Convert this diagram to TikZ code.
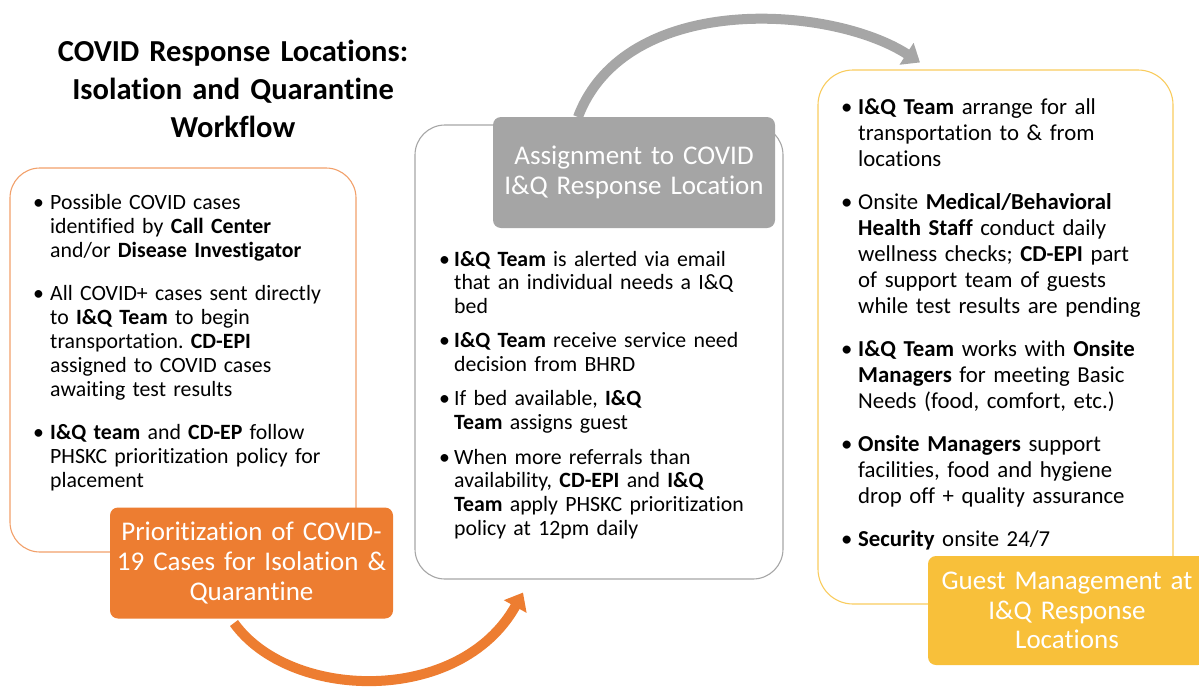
\documentclass[tikz,border=0pt]{standalone}
\usepackage{fontspec}
\setmainfont{Carlito}[Ligatures=NoCommon]
\usetikzlibrary{arrows.meta,calc}
\frenchspacing

\definecolor{qorange}{HTML}{ED7D31}
\definecolor{qorangeline}{HTML}{F2A06A}
\definecolor{qgray}{HTML}{A5A5A5}
\definecolor{qgrayline}{HTML}{A6A6A6}
\definecolor{qgold}{HTML}{F8C03A}
\definecolor{qgoldline}{HTML}{F9CC5E}

\newlength{\bulw}
\newcommand{\Bul}{\makebox[\bulw][l]{\textbullet}}
\newcommand{\Ind}{\hspace*{\bulw}}

\tikzset{
  panel/.style={draw, line width=1.1pt, fill=white, inner sep=0pt},
  stage/.style={text=white, inner sep=0pt, rounded corners=8pt,
    font=\fontsize{27}{29.7}\selectfont, align=center, text width=#1},
  bullets/.style={anchor=base west, inner sep=0pt, align=left, text width=340pt},
  flow/.style={line width=10pt, -{Triangle[length=16pt,width=25pt]}},
}

\begin{document}
\begin{tikzpicture}[x=1pt,y=-1pt]
\useasboundingbox (0,0) rectangle (1199,694);

% title
\node[anchor=base, inner sep=0pt, align=center, text width=440pt,
      font=\fontsize{30.5}{38}\selectfont\bfseries] (title) at (233,61)
  {COVID Response Locations:\\Isolation and Quarantine\\Workflow};

% outlined panels
\node[panel, draw=qorangeline, rounded corners=30pt,
      minimum width=346pt, minimum height=384pt] (lbox) at (183,360) {};
\node[panel, draw=qgrayline, rounded corners=30pt,
      minimum width=368pt, minimum height=454pt] (mbox) at (599,352) {};
\node[panel, draw=qgoldline, rounded corners=35pt,
      minimum width=355pt, minimum height=534pt] (rbox) at (995.5,337) {};

% connectors between the stages
\coordinate (gs) at ([xshift=-56pt]634,117);
\coordinate (ge) at ([xshift=-75.5pt,yshift=7pt]rbox.north);
\draw[flow, qgrayline] (gs) .. controls ($(gs)+(47,-125)$) and ($(ge)+(-90,-58)$) .. (ge);

\coordinate (os) at ([xshift=-17.5pt,yshift=-5pt]251.5,618);
\coordinate (oe) at ([xshift=-76pt,yshift=-13pt]mbox.south);
\draw[flow, qorange] (os) .. controls ($(os)+(56,78)$) and ($(oe)+(-63,113)$) .. (oe);

% stage labels
\node[stage=282pt, fill=qorange, minimum width=283pt, minimum height=111pt]
  (olab) at (251.5,563) {Prioritization of COVID-\\19 Cases for Isolation \&\\Quarantine};
\node[stage=282pt, fill=qgray, minimum width=282pt, minimum height=111pt]
  (glab) at (634,172.5) {Assignment to COVID\\I\&Q Response Location};
\node[stage=278pt, fill=qgold, minimum width=278pt, minimum height=109pt]
  (ylab) at (1067,610.5) {Guest Management at\\I\&Q Response\\Locations};

% bullet lists
\node[bullets, font=\fontsize{21.8}{24}\selectfont,
      execute at begin node={\setlength{\bulw}{17pt}}] (ltxt) at (33,209) {%
\Bul Possible COVID cases\\
\Ind identified by \textbf{Call Center}\\
\Ind and/or \textbf{Disease Investigator}\\[19pt]
\Bul All COVID+ cases sent directly\\
\Ind to \textbf{I\&Q Team} to begin\\
\Ind transportation. \textbf{CD-EPI}\\
\Ind assigned to COVID cases\\
\Ind awaiting test results\\[19pt]
\Bul \textbf{I\&Q team} and \textbf{CD-EP} follow\\
\Ind PHSKC prioritization policy for\\
\Ind placement};

\node[bullets, font=\fontsize{21.8}{23.7}\selectfont,
      execute at begin node={\setlength{\bulw}{15pt}}] (mtxt) at (439,266) {%
\Bul \textbf{I\&Q Team} is alerted via email\\
\Ind that an individual needs a I\&Q\\
\Ind bed\\[10.7pt]
\Bul \textbf{I\&Q Team} receive service need\\
\Ind decision from BHRD\\[10.7pt]
\Bul If bed available, \textbf{I\&Q}\\
\Ind \textbf{Team} assigns guest\\[10.7pt]
\Bul When more referrals than\\
\Ind availability, \textbf{CD-EPI} and \textbf{I\&Q}\\
\Ind \textbf{Team} apply PHSKC prioritization\\
\Ind policy at 12pm daily};

\node[bullets, font=\fontsize{22.8}{26}\selectfont,
      execute at begin node={\setlength{\bulw}{17pt}}] (rtxt) at (841,114) {%
\Bul \textbf{I\&Q Team} arrange for all\\
\Ind transportation to \& from\\
\Ind locations\\[17pt]
\Bul Onsite \textbf{Medical/Behavioral}\\
\Ind \textbf{Health Staff} conduct daily\\
\Ind wellness checks; \textbf{CD-EPI} part\\
\Ind of support team of guests\\
\Ind while test results are pending\\[17pt]
\Bul \textbf{I\&Q Team} works with \textbf{Onsite}\\
\Ind \textbf{Managers} for meeting Basic\\
\Ind Needs (food, comfort, etc.)\\[17pt]
\Bul \textbf{Onsite Managers} support\\
\Ind facilities, food and hygiene\\
\Ind drop off + quality assurance\\[17pt]
\Bul \textbf{Security} onsite 24/7};
\end{tikzpicture}
\end{document}
